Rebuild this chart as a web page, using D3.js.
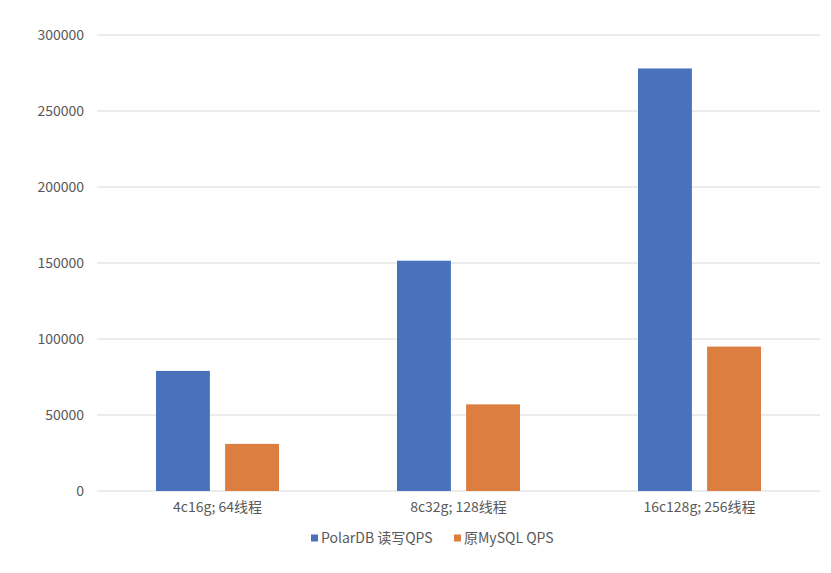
<!DOCTYPE html>
<html>
<head>
<meta charset="utf-8">
<script src="https://cdn.jsdelivr.net/npm/d3@7"></script>
<style>
body { margin: 0; background: #fff; }
text { font-family: "Noto Sans CJK SC", "Noto Sans", sans-serif; fill: #595959; }
</style>
</head>
<body>
<script>
var categories = ["4c16g; 64线程", "8c32g; 128线程", "16c128g; 256线程"];
var seriesNames = ["PolarDB 读写QPS", "原MySQL QPS"];
var polardbQps = [79000, 151500, 278000];
var mysqlQps = [31000, 57000, 95000];
var yTicks = [0, 50000, 100000, 150000, 200000, 250000, 300000];
var colors = ["#4a72bc", "#dd7e41"];

var width = 831, height = 573;
var margin = {top: 35, right: 11, bottom: 82, left: 97};
var innerW = width - margin.left - margin.right,
    innerH = height - margin.top - margin.bottom;

var svg = d3.select("body").append("svg")
    .attr("width", width)
    .attr("height", height);

var g = svg.append("g")
    .attr("transform", "translate(" + margin.left + "," + margin.top + ")");

var x = d3.scaleBand().domain(categories).range([0, innerW]).paddingInner(0).paddingOuter(0);
var x1 = d3.scaleBand().domain(seriesNames).range([59, x.bandwidth() - 59]).paddingInner(0.22);
var y = d3.scaleLinear().domain([0, 300000]).range([innerH, 0]);

// gridlines
g.selectAll("line.grid").data(yTicks).enter().append("line")
    .attr("class", "grid")
    .attr("x1", 0).attr("x2", innerW)
    .attr("y1", function(d) { return y(d); })
    .attr("y2", function(d) { return y(d); })
    .attr("stroke", "#d9d9d9")
    .attr("stroke-width", 1);

var yAxis = d3.axisLeft(y).tickValues(yTicks).tickSize(0).tickPadding(13).tickFormat(d3.format("d"));
g.append("g").call(yAxis)
    .call(function(s) { s.select(".domain").remove(); })
    .selectAll("text").style("font-size", "14px").attr("fill", "#595959");

var rows = categories.map(function(c, i) {
    return {cat: c, vals: [polardbQps[i], mysqlQps[i]]};
});

var groups = g.selectAll("g.cat").data(rows).enter().append("g")
    .attr("class", "cat")
    .attr("transform", function(d) { return "translate(" + x(d.cat) + ",0)"; });

groups.selectAll("rect").data(function(d) {
    return d.vals.map(function(v, j) { return {name: seriesNames[j], v: v, j: j}; });
}).enter().append("rect")
    .attr("x", function(d) { return x1(d.name); })
    .attr("width", x1.bandwidth())
    .attr("y", function(d) { return y(d.v); })
    .attr("height", function(d) { return innerH - y(d.v); })
    .attr("fill", function(d) { return colors[d.j]; });

var xAxis = d3.axisBottom(x).tickSize(0).tickPadding(11);
g.append("g").attr("transform", "translate(0," + innerH + ")").call(xAxis)
    .call(function(s) { s.select(".domain").remove(); })
    .selectAll("text").style("font-size", "14px").attr("fill", "#595959");

// legend
var legend = svg.append("g").attr("transform", "translate(0,538)");
var legendX = [311, 454];
seriesNames.forEach(function(n, i) {
    legend.append("rect")
        .attr("x", legendX[i]).attr("y", -3.5)
        .attr("width", 7).attr("height", 7)
        .attr("fill", colors[i]);
    legend.append("text")
        .attr("x", legendX[i] + 10).attr("y", 0)
        .attr("dy", "0.35em")
        .style("font-size", "14px")
        .text(n);
});
</script>
</body>
</html>
